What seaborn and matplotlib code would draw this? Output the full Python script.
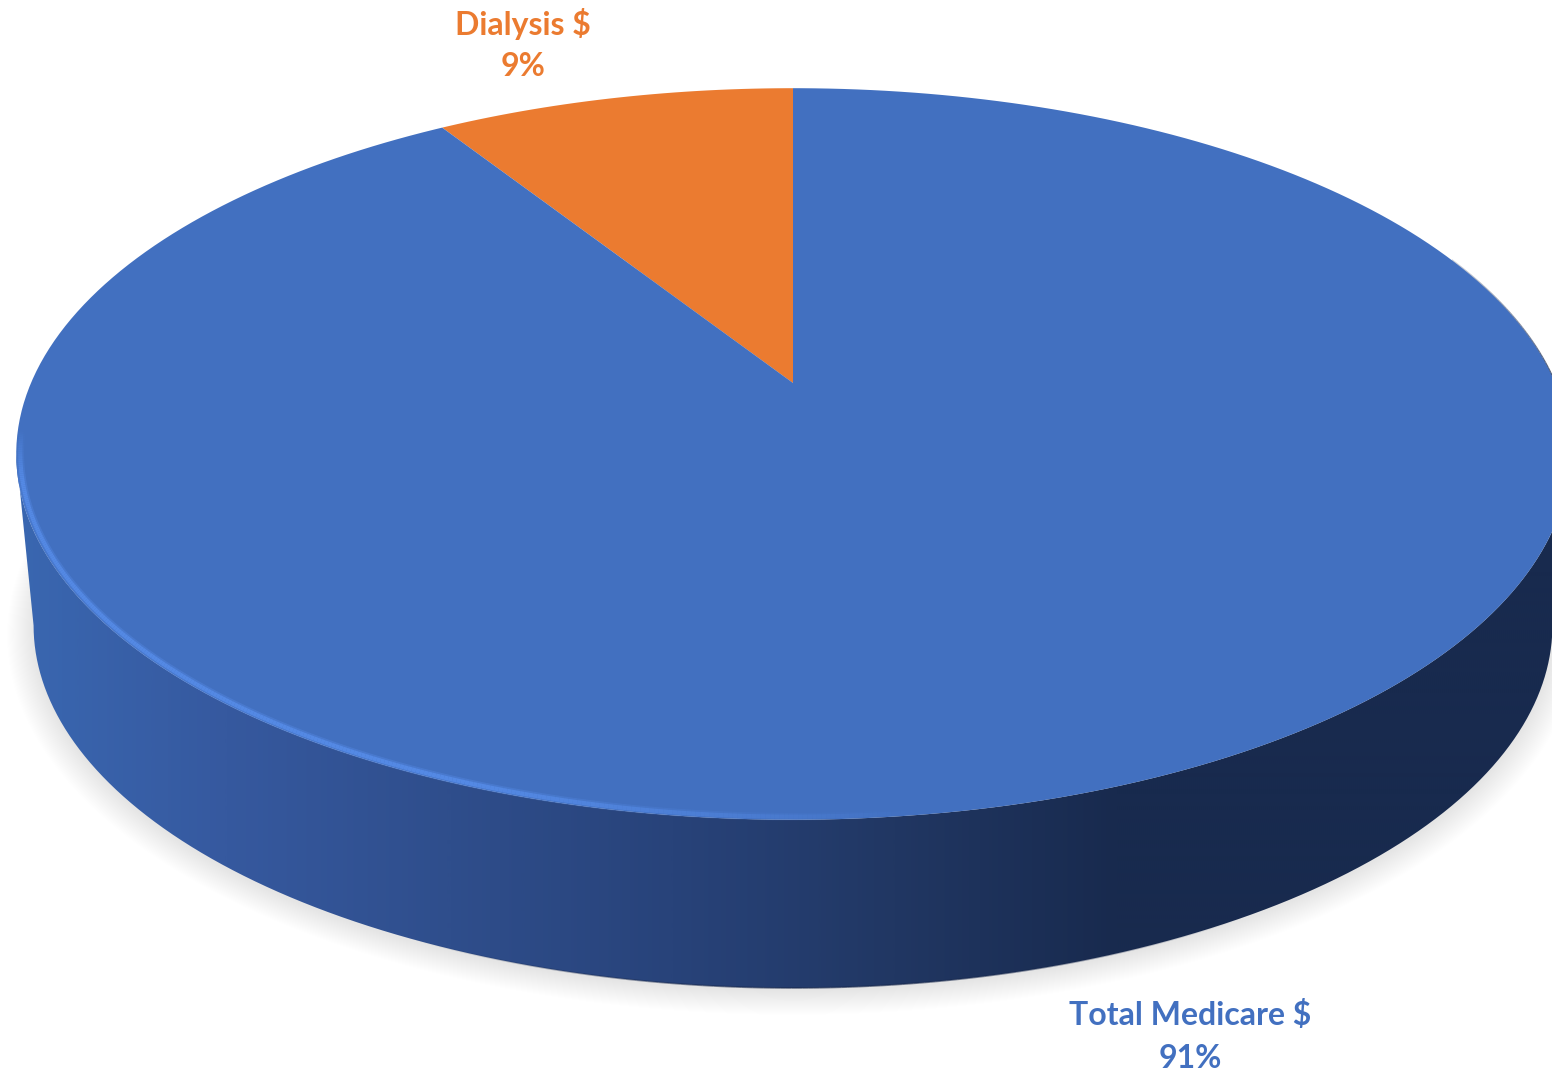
import numpy as np
import matplotlib
matplotlib.use("Agg")
import matplotlib.pyplot as plt
from matplotlib.transforms import Transform
from matplotlib.path import Path
from matplotlib.collections import LineCollection
from matplotlib.patches import PathPatch
import seaborn as sns

# ---- data ----
categories = ["Dialysis $", "Total Medicare $"]
shares = [9, 91]
share_labels = ["9%", "91%"]
slice_colors = ["#EB7B30", "#4270C0"]
wall_stops = ["#3A68B2", "#36599F", "#2F4E8C", "#28437A", "#213763", "#182A4E"]

sns.set_theme(style="white")
plt.rcParams["font.family"] = ["Lato", "DejaVu Sans"]

W, H = 1552, 1072
K = 0.194


class Tilt(Transform):
    """Perspective view of the unit disc, onto the canvas (pixels)."""
    input_dims = output_dims = 2
    is_separable = False
    has_inverse = False

    def __init__(self, cx, cy, a, b):
        super().__init__()
        self.cx, self.cy, self.a, self.b = cx, cy, a, b

    def transform_non_affine(self, values):
        v = np.asarray(values, dtype=float)
        w = 1 + K * v[:, 1]
        return np.column_stack([self.cx + self.a * v[:, 0] / w,
                                self.cy - self.b * v[:, 1] / w])

    def transform_path_non_affine(self, path):
        big = Path(path.vertices * 2000, path.codes)
        polys = big.to_polygons(closed_only=False)
        verts = np.vstack(polys) / 2000
        return Path(self.transform_non_affine(verts))


top = Tilt(793, 383, 762, 352)
bottom = Tilt(793, 555, 745, 349)

fig = plt.figure(figsize=(W / 100, H / 100), dpi=100, facecolor="white")
ax = fig.add_axes([0, 0, 1, 1])

wedges, _ = ax.pie(shares, colors=slice_colors, startangle=90, radius=1,
                   wedgeprops={"linewidth": 0, "edgecolor": "none"})
ax.set_aspect("auto")
ax.set_xlim(0, W)
ax.set_ylim(H, 0)
ax.axis("off")

for w in wedges:
    w.set_transform(top + ax.transData)
    w.set_zorder(5)
    w.set_clip_on(False)


def ring(tf, t):
    return tf.transform_non_affine(np.column_stack([np.cos(t), np.sin(t)]))


def faded_line(points, color, alpha, lw, zorder):
    segs = np.stack([points[:-1], points[1:]], axis=1)
    rgba = np.tile(matplotlib.colors.to_rgba(color), (len(segs), 1))
    rgba[:, 3] = alpha[:len(segs)]
    ax.add_collection(LineCollection(segs, colors=rgba, linewidths=lw,
                                     zorder=zorder, capstyle="butt"))


# soft ground shadow
t_all = np.linspace(0, 2 * np.pi, 400)
n_layers = 26
for i in range(n_layers):
    f = i / (n_layers - 1)
    sh = Tilt(793, 558 + 4 * (1 - f), 745 + 26 * (1 - f), 349 + 16 * (1 - f))
    ax.fill(*ring(sh, t_all).T, color="black", alpha=0.005, lw=0, zorder=1)

# side wall with left-to-right shading
left = np.arctan2(-K, -np.sqrt(1 - K ** 2)) + 2 * np.pi
right = np.arctan2(-K, np.sqrt(1 - K ** 2)) + 2 * np.pi
t_low = np.linspace(left, right, 300)
wall_pts = np.vstack([ring(top, t_low[:1]), ring(bottom, t_low),
                      ring(top, t_low[-1:]), ring(top, t_low[::-1])])
wall = PathPatch(Path(wall_pts), transform=ax.transData, fc="none", lw=0)
ax.add_patch(wall)
cmap = sns.blend_palette(wall_stops, as_cmap=True)
grad = np.clip(np.linspace(0, 1552, 776) / 1120, 0, 1)[None, :]
im = ax.imshow(grad, cmap=cmap, extent=(0, W, H, 0), aspect="auto", zorder=3,
               vmin=0, vmax=1, interpolation="bilinear")
im.set_clip_path(wall)
ax.set_xlim(0, W)
ax.set_ylim(H, 0)

# thin dark seam on the underside, fading out at both ends
t_seam = np.linspace(np.radians(245), np.radians(300), 160)
faded_line(ring(bottom, t_seam), "#16264A",
           0.6 * np.sin(np.linspace(0, np.pi, 160)), 1.2, 4)

# thin dark edge on the far right of the top face
t_edge = np.linspace(np.radians(-3), np.radians(22), 60)
faded_line(ring(top, t_edge), "#1B2C50",
           np.linspace(0.9, 0.2, 60), 1.5, 4)

# light rim on the near-left edge of the top face, blurred by two strokes
t_rim = np.linspace(left - np.radians(4), np.radians(278), 320)
fade = np.clip((np.radians(278) - t_rim) / np.radians(28), 0, 1)
fade *= np.clip((t_rim - t_rim[0]) / np.radians(8), 0, 1)
p = ring(Tilt(793, 383, 758, 349.5), t_rim)
faded_line(p, "#5489E4", 0.4 * fade, 5.5, 6)
faded_line(p, "#5489E4", 1.0 * fade, 3, 6)

# labels
label_xy = [(523, 24, 67), (1190, 1015, 1058)]
for name, pct, col, (x, y1, y2) in zip(categories, share_labels, slice_colors, label_xy):
    ax.text(x, y1, name, color=col, fontsize=23, fontweight="bold",
            ha="center", va="center", zorder=7)
    ax.text(x, y2, pct, color=col, fontsize=23, fontweight="bold",
            ha="center", va="center", zorder=7)

fig.savefig("out.png", dpi=100, facecolor="white")
